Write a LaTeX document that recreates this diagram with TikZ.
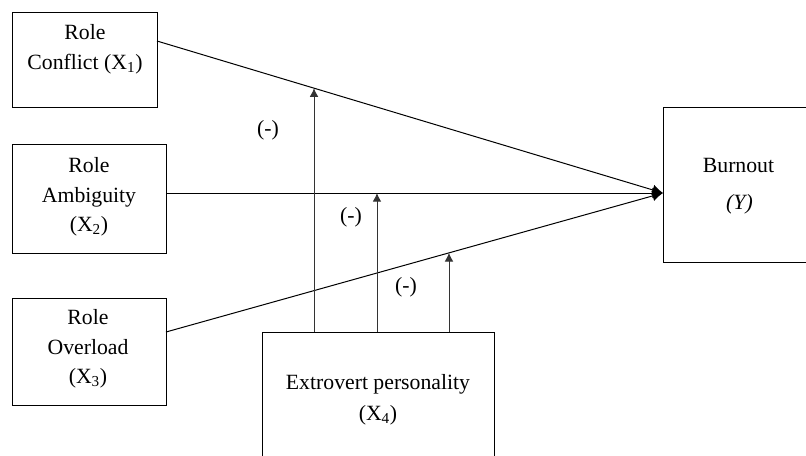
\documentclass[tikz,border=0pt]{standalone}
\usepackage{fontspec}
\setmainfont{Liberation Serif}
\usetikzlibrary{arrows.meta,calc}
\begin{document}
\begin{tikzpicture}[x=0.75pt,y=-0.75pt,
  box/.style={draw, line width=0.75pt, inner sep=0pt},
  lbl/.style={anchor=base, inner sep=0pt, font=\fontsize{16.3}{20}\selectfont},
  sign/.style={anchor=center, inner sep=0pt, font=\fontsize{16.3}{20}\selectfont},
  conn/.style={line width=0.75pt, -{Latex[length=8pt,width=8pt]}},
  modarrow/.style={line width=0.7pt, draw=black!80, -{Latex[length=6.5pt,width=6.5pt]}}]
\useasboundingbox (0,0) rectangle (806,455);
% boxes
\node[box, minimum width=108.75pt, minimum height=71.25pt] (X1) at (84.5,59.5) {};
\node[box, minimum width=115.5pt, minimum height=81.75pt] (X2) at (89,198.5) {};
\node[box, minimum width=115.5pt, minimum height=80.25pt] (X3) at (89,351.5) {};
\node[box, minimum width=125.25pt, minimum height=116.25pt] (Y) at (746.5,184.5) {};
\node[box, minimum width=174pt, minimum height=111pt] (X4) at (378,406) {};
% texts
\node[lbl] (t1a) at (85,39.5) {Role};
\node[lbl] (t1b) at (85,69.5) {Conflict (X\textsubscript{1})};
\node[lbl] (t2a) at (89,172.5) {Role};
\node[lbl] (t2b) at (89,202) {Ambiguity};
\node[lbl] (t2c) at (89,231.5) {(X\textsubscript{2})};
\node[lbl] (t3a) at (88,324.5) {Role};
\node[lbl] (t3b) at (88,354) {Overload};
\node[lbl] (t3c) at (88,383.5) {(X\textsubscript{3})};
\node[lbl] (tya) at (738.5,172.5) {Burnout};
\node[lbl] (tyb) at (739.5,209.5) {\itshape(Y)};
\node[lbl] (t4a) at (378,389.5) {Extrovert personality};
\node[lbl] (t4b) at (378,420) {(X\textsubscript{4})};
% connector end points
\coordinate (s1) at (157,41);
\coordinate (s2) at (166,193);
\coordinate (s3) at (166,332);
\coordinate (T) at (663,193);
\draw[conn] (s1) -- (T);
\draw[conn] (s2) -- (T);
\draw[conn] (s3) -- (T);
% moderation points
\coordinate (m1) at ($(s1)!0.3103!(T)$);
\coordinate (m2) at ($(s2)!0.4245!(T)$);
\coordinate (m3) at ($(s3)!0.5694!(T)$);
\draw[modarrow] (X4.north -| m1) -- (m1);
\draw[modarrow] (X4.north -| m2) -- (m2);
\draw[modarrow] (X4.north -| m3) -- (m3);
% signs
\node[sign] (n1) at (268,130) {(-)};
\node[sign] (n2) at (351,217) {(-)};
\node[sign] (n3) at (406,287) {(-)};
\end{tikzpicture}
\end{document}
